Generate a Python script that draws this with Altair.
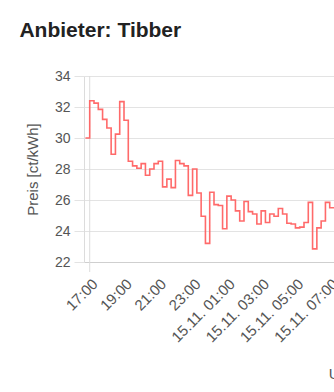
import altair as alt
import pandas as pd

# Quarter-hour prices (ct/kWh) starting 14.11. 16:45 (visible part only)
prices = [30.0, 32.4, 32.25, 31.85, 31.2, 30.65, 28.95, 30.25, 32.35, 31.15,
          28.5, 28.2, 28.05, 28.35, 27.6, 28.0, 28.35, 28.5, 26.85, 27.35,
          26.8, 28.55, 28.35, 28.2, 26.3, 28.0, 26.45, 24.95, 23.2, 26.5,
          25.7, 25.65, 24.15, 26.25, 26.0, 25.3, 24.65, 25.9, 25.25, 25.1,
          24.45, 25.3, 24.55, 25.1, 24.95, 25.45, 25.1, 24.5, 24.45, 24.2,
          24.25, 24.55, 25.85, 22.85, 24.2, 24.65, 25.85, 25.5, 25.5]
start_time = "2025-11-14 16:45"
# visible window of the (wider, cut-off) original chart
x_domain = ["2025-11-14 16:40", "2025-11-15 07:15"]
tick_times = ["2025-11-14 17:00", "2025-11-14 19:00", "2025-11-14 21:00",
              "2025-11-14 23:00", "2025-11-15 01:00", "2025-11-15 03:00",
              "2025-11-15 05:00", "2025-11-15 07:00", "2025-11-15 09:00"]
y_ticks = [22, 24, 26, 28, 30, 32, 34]
marker_time = ["2025-11-14 17:00"]


def to_ms(values):
    return [int(pd.Timestamp(v, tz="UTC").value // 10**6) for v in values]


times = pd.date_range(start_time, periods=len(prices), freq="15min", tz="UTC")
df = pd.DataFrame({"t": [int(t.value // 10**6) for t in times], "p": prices})
marker_df = pd.DataFrame({"t": to_ms(marker_time)})

FONT = "Liberation Sans"
label_expr = ("utcFormat(datum.value, '%d') == '15' ? "
              "utcFormat(datum.value, '%d.%m. %H:%M') : utcFormat(datum.value, '%H:%M')")

x_scale = alt.Scale(type="utc", domain=to_ms(x_domain))
x_axis = alt.Axis(
    values=to_ms(tick_times), labelExpr=label_expr, labelAngle=-45,
    grid=False, ticks=False, domain=True, title="Uhrzeit",
    labelPadding=14, titlePadding=22, titleX=268, titleAlign="center",
    labelOverlap=False, labelBound=False, labelFlush=False,
    labelFontSize=15,
)

rule = alt.Chart(marker_df).mark_rule(color="#dcdcdc", strokeWidth=1).encode(
    x=alt.X("t:T", scale=x_scale, axis=x_axis),
    y=alt.value(0), y2=alt.value(196),
)

line = alt.Chart(df).mark_line(
    interpolate="step-after", color="#ff5a5a", strokeWidth=1.6, opacity=0.9,
    clip=True,
).encode(
    x=alt.X("t:T", scale=x_scale, axis=x_axis),
    y=alt.Y(
        "p:Q",
        scale=alt.Scale(domain=[22, 34], nice=False, zero=False),
        axis=alt.Axis(values=y_ticks, title="Preis [ct/kWh]", tickSize=10,
                      tickColor="#e3e3e3", domain=True, domainColor="#dcdcdc",
                      gridColor="#e3e3e3", labelPadding=4, titlePadding=14),
    ),
)

chart = alt.layer(rule, line).properties(
    width=250,
    height=186,
    title=alt.TitleParams("Anbieter: Tibber", anchor="start", frame="bounds",
                          font=FONT, fontSize=21, fontWeight="bold",
                          color="#222222", offset=28, dx=-6),
    autosize=alt.AutoSizeParams(type="none"),
    padding={"left": 84, "top": 76, "right": 0, "bottom": 130},
).configure_view(stroke=None).configure_axis(
    labelFont=FONT, labelFontSize=14, labelColor="#555555",
    titleFont=FONT, titleFontSize=15, titleColor="#555555", titleFontWeight="normal",
).configure_axisX(
    domain=True, domainColor="#cfcfcf",
)

chart.save("out.html", embed_options={"renderer": "svg", "actions": False})
